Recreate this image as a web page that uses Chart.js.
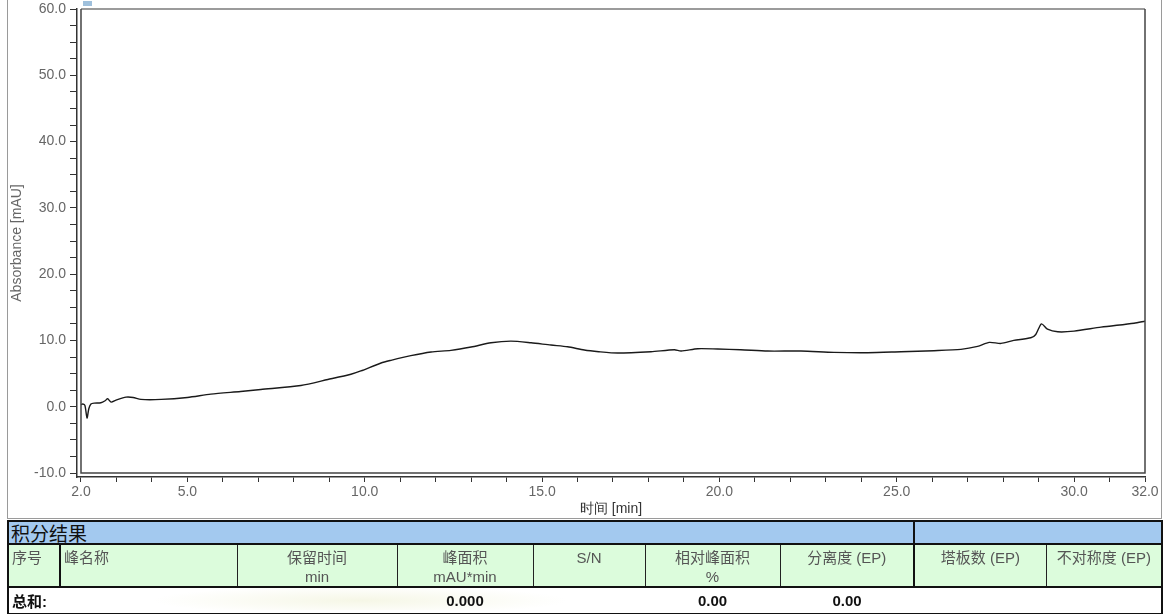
<!DOCTYPE html>
<html>
<head>
<meta charset="utf-8">
<script src="https://cdn.jsdelivr.net/npm/chart.js@4"></script>
<style>
  html, body { margin: 0; padding: 0; background: #fff; }
  body { width: 1164px; height: 614px; position: relative; overflow: hidden; font-family: "Liberation Sans", Arial, sans-serif; }
  #wrap { position: absolute; left: 0; top: 0; width: 1164px; height: 518px; }
  #frame { position: absolute; left: 7px; top: 0; width: 1153px; height: 518px; border-left: 1px solid #9a9a9a; border-right: 1px solid #9a9a9a; border-bottom: 1px solid #9a9a9a; pointer-events: none; }
  #icon { position: absolute; left: 83px; top: 1px; width: 9px; height: 5px; background: #9fc0dc; }
  #wm { position: absolute; left: 150px; top: 586px; width: 420px; height: 24px; background: radial-gradient(ellipse at 50% 60%, rgba(238,240,210,0.55), rgba(255,255,255,0) 70%); }
  table { position: absolute; left: 7px; top: 520px; width: 1154px; border-collapse: collapse; table-layout: fixed; font-family: "Liberation Sans", "Noto Sans CJK SC", sans-serif; }
  td { padding: 0; overflow: hidden; white-space: nowrap; }
  .ttl td { background: #a3c9ef; height: 21px; border: 2px solid #111; font-size: 19px; color: #111; font-family: "Noto Sans CJK SC", sans-serif; line-height: 21px; }
  .hdr td { background: #dcfcdc; height: 38px; padding-top: 3px; border: 1px solid #222; border-bottom: 2px solid #111; font-size: 15px; color: #555; text-align: center; vertical-align: top; line-height: 19px; font-family: "Liberation Sans", "Noto Sans CJK SC", sans-serif; }
  .hdr td.l { text-align: left; padding-left: 3px; }
  .hdr td.first { border-left: 2px solid #111; border-right: 2px solid #111; }
  .hdr td.last { border-right: 2px solid #111; }
  .hdr td.sep { border-left: 2px solid #111; }
  .tot td { background: transparent; height: 25px; font-size: 15px; font-weight: bold; color: #111; text-align: center; border-bottom: 2px solid #111; font-family: "Liberation Sans", "Noto Sans CJK SC", sans-serif; }
  .tot td.first { border-left: 2px solid #111; text-align: left; padding-left: 3px; }
  .tot td.last { border-right: 2px solid #111; }
</style>
</head>
<body>
<div id="wrap"><canvas id="c" width="1164" height="518"></canvas></div>
<div id="frame"></div>
<div id="icon"></div>
<div id="wm"></div>
<table>
  <colgroup>
    <col style="width:52px"><col style="width:177px"><col style="width:160px"><col style="width:136px"><col style="width:112px"><col style="width:135px"><col style="width:134px"><col style="width:132px"><col style="width:116px">
  </colgroup>
  <tr class="ttl"><td colspan="7" style="padding-left:2px">积分结果</td><td colspan="2"></td></tr>
  <tr class="hdr" id="hdr"></tr>
  <tr class="tot" id="tot"></tr>
</table>
<script>
// ---- data ----
const timeMin = [2.0, 2.05, 2.11, 2.17, 2.22, 2.28, 2.37, 2.56, 2.68, 2.75, 2.85, 2.99, 3.27, 3.47, 3.69, 4.26, 5.0, 5.66, 6.5, 7.07, 8.2, 8.96, 9.61, 9.89, 10.46, 10.74, 11.3, 11.87, 12.43, 13.0, 13.56, 14.12, 14.69, 15.25, 15.72, 16.19, 16.6, 17.13, 18.07, 18.73, 18.92, 19.39, 19.95, 20.6, 21.36, 22.3, 23.23, 24.18, 25.12, 26.05, 26.81, 27.28, 27.61, 27.94, 28.3, 28.78, 28.92, 29.08, 29.25, 29.54, 30.0, 30.76, 31.69, 32.0];
const absorbance = [0.3, 0.4, 0.2, -1.7, -0.3, 0.4, 0.55, 0.6, 0.9, 1.2, 0.7, 1.0, 1.45, 1.4, 1.1, 1.1, 1.4, 1.9, 2.3, 2.6, 3.2, 4.1, 4.9, 5.4, 6.6, 7.0, 7.7, 8.25, 8.5, 9.0, 9.65, 9.9, 9.65, 9.3, 9.05, 8.55, 8.3, 8.1, 8.3, 8.6, 8.4, 8.75, 8.7, 8.6, 8.4, 8.4, 8.2, 8.15, 8.3, 8.45, 8.65, 9.1, 9.7, 9.55, 10.0, 10.4, 10.9, 12.5, 11.7, 11.3, 11.4, 12.0, 12.6, 12.9];
const xTickValues = [2,3,4,5,6,7,8,9,10,11,12,13,14,15,16,17,18,19,20,21,22,23,24,25,26,27,28,29,30,31,32];
const xLabelValues = [2, 5, 10, 15, 20, 25, 30, 32];
const yTickValues = [-10,-7.5,-5,-2.5,0,2.5,5,7.5,10,12.5,15,17.5,20,22.5,25,27.5,30,32.5,35,37.5,40,42.5,45,47.5,50,52.5,55,57.5,60];
const yLabelValues = [-10, 0, 10, 20, 30, 40, 50, 60];
const headers = [["序号",""],["峰名称",""],["保留时间","min"],["峰面积","mAU*min"],["S/N",""],["相对峰面积","%"],["分离度 (EP)",""],["塔板数 (EP)",""],["不对称度 (EP)",""]];
const totals = ["总和:", "", "", "0.000", "", "0.00", "0.00", "", ""];

// ---- table ----
const hdr = document.getElementById('hdr');
headers.forEach((h, i) => {
  const td = document.createElement('td');
  td.innerHTML = h[0] + (h[1] ? '<br>' + h[1] : '');
  if (i < 2) td.classList.add('l');
  if (i === 0) td.classList.add('first');
  if (i === 7) td.classList.add('sep');
  if (i === 8) td.classList.add('last');
  hdr.appendChild(td);
});
const tot = document.getElementById('tot');
totals.forEach((v, i) => {
  const td = document.createElement('td');
  td.textContent = v;
  if (i === 0) td.classList.add('first');
  if (i === 8) td.classList.add('last');
  tot.appendChild(td);
});

// ---- chart ----
const xMin = 2 - 4 / 35.47;
const yMin = -10 - 4 / 6.63;
const framePlugin = {
  id: 'frame',
  afterDatasetsDraw(chart) {
    const {ctx, scales: {x, y}} = chart;
    const l = x.getPixelForValue(2), r = x.getPixelForValue(32);
    const t = y.getPixelForValue(60), b = y.getPixelForValue(-10);
    ctx.save();
    ctx.lineWidth = 1.5;
    ctx.strokeStyle = '#7a7a7a';
    ctx.beginPath(); ctx.moveTo(l, t); ctx.lineTo(r, t); ctx.stroke();
    ctx.strokeStyle = '#444';
    ctx.beginPath(); ctx.moveTo(r, t); ctx.lineTo(r, b); ctx.lineTo(l, b); ctx.lineTo(l, t); ctx.stroke();
    ctx.restore();
  }
};
new Chart(document.getElementById('c'), {
  type: 'line',
  data: {
    datasets: [{
      data: timeMin.map((t, i) => ({x: t, y: absorbance[i]})),
      borderColor: '#1a1a1a',
      borderWidth: 1.4,
      pointRadius: 0,
      tension: 0.25,
      fill: false
    }]
  },
  options: {
    responsive: false,
    animation: false,
    events: [],
    layout: { padding: { left: 0, right: 19, top: 9, bottom: 0 } },
    plugins: { legend: { display: false }, tooltip: { enabled: false } },
    scales: {
      x: {
        type: 'linear', min: xMin, max: 32,
        afterBuildTicks: s => { s.ticks = xTickValues.map(v => ({value: v})); },
        afterFit: s => { s.height = 41; s.paddingLeft = 0; s.paddingRight = 0; },
        ticks: {
          autoSkip: false, maxRotation: 0, padding: 2,
          color: '#666', font: { family: 'Liberation Sans', size: 14 },
          callback: v => xLabelValues.includes(v) ? v.toFixed(1) : ''
        },
        grid: { drawOnChartArea: false, drawTicks: true, tickLength: 5, color: '#333', lineWidth: 1 },
        border: { display: true, color: '#333', width: 1.5 },
        title: { display: true, text: '时间 [min]', color: '#333', font: { family: 'Liberation Sans', size: 14 }, padding: { top: 0, bottom: 0 } }
      },
      y: {
        type: 'linear', min: yMin, max: 60,
        afterBuildTicks: s => { s.ticks = yTickValues.map(v => ({value: v})); },
        afterFit: s => { s.width = 77; s.paddingTop = 0; s.paddingBottom = 0; },
        ticks: {
          autoSkip: false, padding: 4,
          color: '#666', font: { family: 'Liberation Sans', size: 14 },
          callback: v => yLabelValues.includes(v) ? v.toFixed(1) : ''
        },
        grid: { drawOnChartArea: false, drawTicks: true, tickLength: 7, color: '#333', lineWidth: 1 },
        border: { display: true, color: '#333', width: 1.5 },
        title: { display: true, text: 'Absorbance [mAU]', color: '#666', font: { family: 'Liberation Sans', size: 14 }, padding: { top: 9, bottom: 0 } }
      }
    }
  },
  plugins: [framePlugin]
});
</script>
</body>
</html>
